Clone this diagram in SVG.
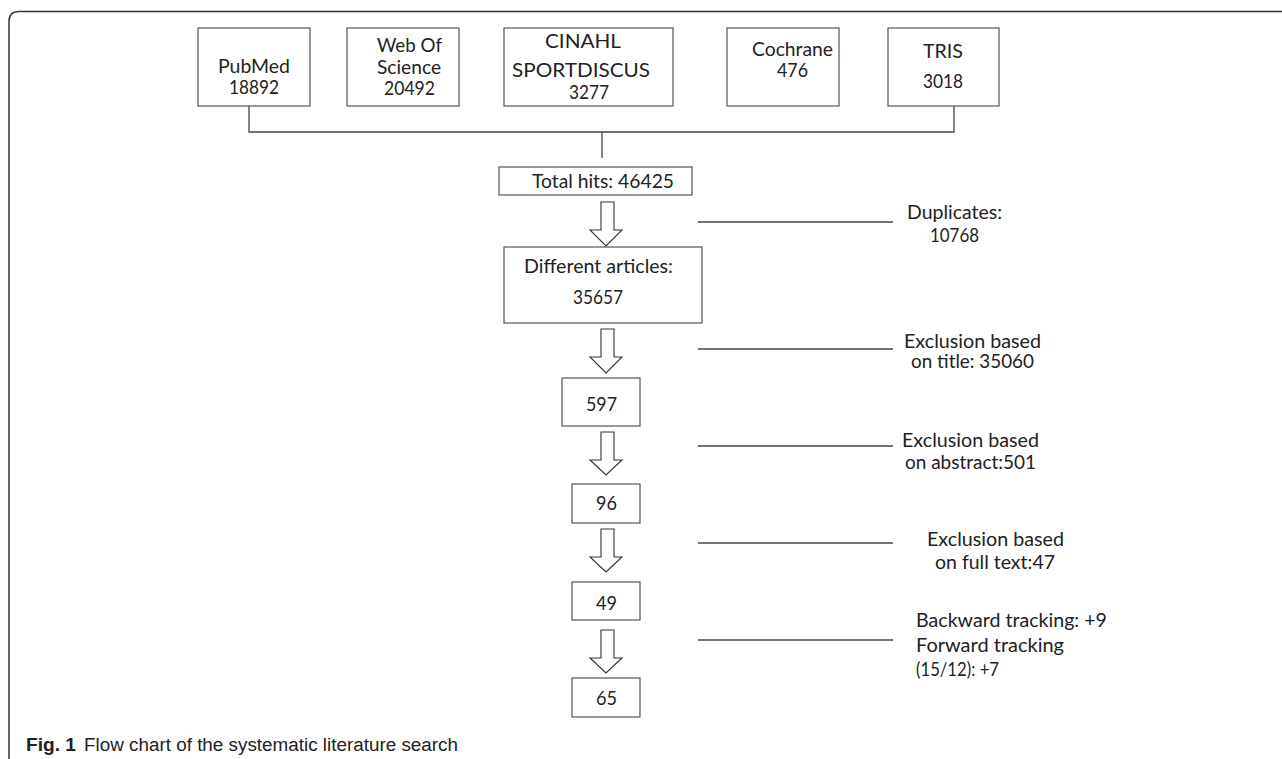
<svg xmlns="http://www.w3.org/2000/svg" width="1282" height="759" viewBox="0 0 1282 759">
<style>
.box{fill:#fff;stroke:#555;stroke-width:1.2}
.t{font-family:"Lato","Open Sans","Liberation Sans",sans-serif;font-size:19px;fill:#222}
.s{font-family:"Lato","Open Sans","Liberation Sans",sans-serif;font-size:18.5px;fill:#222}
.ln{stroke:#444;stroke-width:1.3;fill:none}
.arr{fill:#fff;stroke:#333;stroke-width:1.1}
.cap{font-family:"Liberation Sans","Open Sans",sans-serif;font-size:18px;fill:#222}
</style>
<rect width="1282" height="759" fill="#fff"/>
<path d="M1282 11.5 H19 Q9 11.5 9 21.5 V759" fill="none" stroke="#333" stroke-width="1.5"/>
<g id="connectors">
<polyline class="ln" points="249,106 249,132 954,132 954,106"/>
<line class="ln" x1="602" y1="132" x2="602" y2="158"/>
<polygon class="arr" points="601,202 614,202 614,230 622,230 606,246 590,230 601,230"/>
<polygon class="arr" points="601,329 614,329 614,357 622,357 606,373 590,357 601,357"/>
<polygon class="arr" points="601,432 614,432 614,460 622,460 606,475 590,460 601,460"/>
<polygon class="arr" points="601,529 614,529 614,557 622,557 606,572 590,557 601,557"/>
<polygon class="arr" points="601,630 614,630 614,658 622,658 606,673 590,658 601,658"/>
<line class="ln" x1="698" y1="222" x2="893" y2="222"/>
<line class="ln" x1="698" y1="349" x2="893" y2="349"/>
<line class="ln" x1="698" y1="446" x2="893" y2="446"/>
<line class="ln" x1="698" y1="543" x2="893" y2="543"/>
<line class="ln" x1="698" y1="640" x2="893" y2="640"/>
</g>
<g id="pubmed"><rect class="box" x="198" y="28" width="112" height="78"/>
<text class="t" x="218" y="73" textLength="72" lengthAdjust="spacingAndGlyphs">PubMed</text>
<text class="t" x="229" y="94" textLength="50" lengthAdjust="spacingAndGlyphs">18892</text></g>
<g id="wos"><rect class="box" x="347" y="28" width="112" height="78"/>
<text class="t" x="377" y="52" textLength="65" lengthAdjust="spacingAndGlyphs">Web Of</text>
<text class="t" x="377" y="74" textLength="64" lengthAdjust="spacingAndGlyphs">Science</text>
<text class="t" x="384" y="95" textLength="51" lengthAdjust="spacingAndGlyphs">20492</text></g>
<g id="cinahl"><rect class="box" x="504" y="28" width="169" height="78"/>
<text class="t" x="545" y="48" textLength="76" lengthAdjust="spacingAndGlyphs">CINAHL</text>
<text class="t" x="512" y="77" textLength="138" lengthAdjust="spacingAndGlyphs">SPORTDISCUS</text>
<text class="t" x="569" y="99" textLength="40" lengthAdjust="spacingAndGlyphs">3277</text></g>
<g id="cochrane"><rect class="box" x="727" y="28" width="112" height="78"/>
<text class="t" x="752" y="56" textLength="81" lengthAdjust="spacingAndGlyphs">Cochrane</text>
<text class="t" x="777" y="77" textLength="31" lengthAdjust="spacingAndGlyphs">476</text></g>
<g id="tris"><rect class="box" x="888" y="28" width="111" height="78"/>
<text class="t" x="923" y="58" textLength="40" lengthAdjust="spacingAndGlyphs">TRIS</text>
<text class="t" x="923" y="88" textLength="40" lengthAdjust="spacingAndGlyphs">3018</text></g>
<g id="total"><rect class="box" x="499" y="167" width="193" height="28"/>
<text class="t" x="532" y="188" textLength="142" lengthAdjust="spacingAndGlyphs">Total hits: 46425</text></g>
<g id="different"><rect class="box" x="504" y="247" width="198" height="76"/>
<text class="t" x="524" y="273" textLength="149" lengthAdjust="spacingAndGlyphs">Different articles:</text>
<text class="t" x="573" y="304" textLength="50" lengthAdjust="spacingAndGlyphs">35657</text></g>
<g id="n597"><rect class="box" x="562" y="378" width="78" height="48"/>
<text class="t" x="586" y="411" textLength="31" lengthAdjust="spacingAndGlyphs">597</text></g>
<g id="n96"><rect class="box" x="572" y="484" width="68" height="39"/>
<text class="t" x="596" y="510" textLength="21" lengthAdjust="spacingAndGlyphs">96</text></g>
<g id="n49"><rect class="box" x="572" y="582" width="68" height="38"/>
<text class="t" x="596" y="610" textLength="21" lengthAdjust="spacingAndGlyphs">49</text></g>
<g id="n65"><rect class="box" x="572" y="678" width="68" height="39"/>
<text class="t" x="596" y="705" textLength="21" lengthAdjust="spacingAndGlyphs">65</text></g>
<g id="dup"><text class="s" x="907" y="219" textLength="95" lengthAdjust="spacingAndGlyphs">Duplicates:</text>
<text class="s" x="930" y="242" textLength="49" lengthAdjust="spacingAndGlyphs">10768</text></g>
<g id="excl-title"><text class="s" x="904" y="348" textLength="137" lengthAdjust="spacingAndGlyphs">Exclusion based</text>
<text class="s" x="911" y="368" textLength="123" lengthAdjust="spacingAndGlyphs">on title: 35060</text></g>
<g id="excl-abstract"><text class="s" x="902" y="447" textLength="137" lengthAdjust="spacingAndGlyphs">Exclusion based</text>
<text class="s" x="905" y="469" textLength="131" lengthAdjust="spacingAndGlyphs">on abstract:501</text></g>
<g id="excl-full"><text class="s" x="927" y="546" textLength="137" lengthAdjust="spacingAndGlyphs">Exclusion based</text>
<text class="s" x="935" y="569" textLength="120" lengthAdjust="spacingAndGlyphs">on full text:47</text></g>
<g id="tracking"><text class="s" x="916" y="627" textLength="191" lengthAdjust="spacingAndGlyphs">Backward tracking: +9</text>
<text class="s" x="916" y="652" textLength="148" lengthAdjust="spacingAndGlyphs">Forward tracking</text>
<text class="s" x="916" y="676" textLength="83" lengthAdjust="spacingAndGlyphs">(15/12): +7</text></g>
<text class="cap" x="26" y="751"><tspan font-weight="bold" textLength="50" lengthAdjust="spacingAndGlyphs">Fig. 1</tspan><tspan x="84" textLength="374" lengthAdjust="spacingAndGlyphs">Flow chart of the systematic literature search</tspan></text>
</svg>
